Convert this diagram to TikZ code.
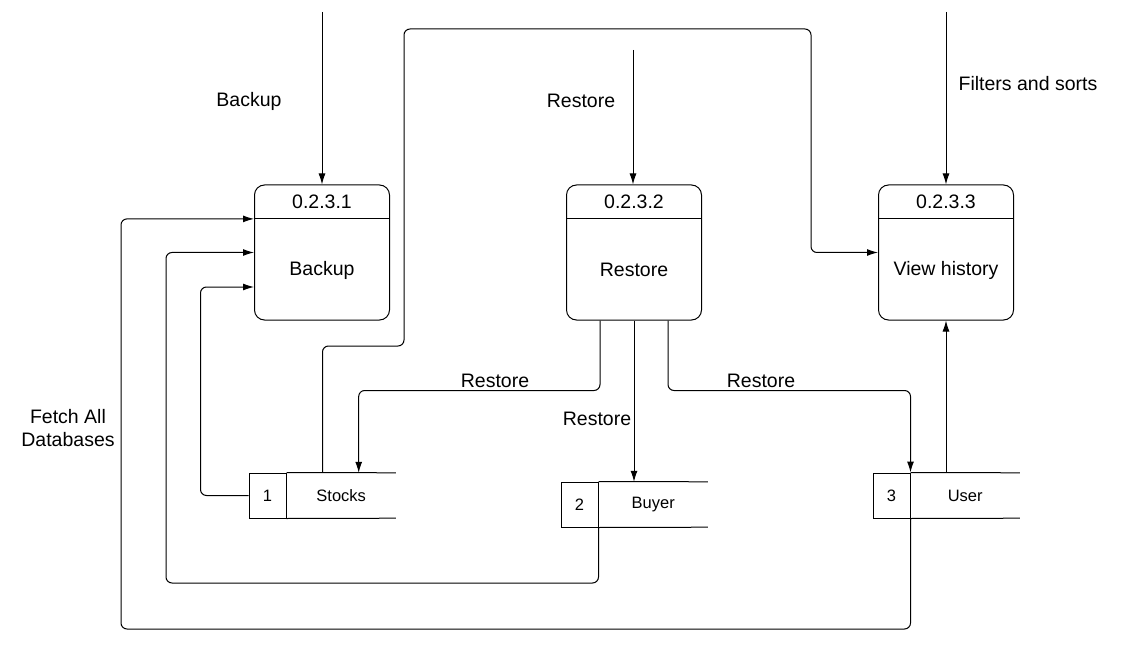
\documentclass[tikz,border=0pt]{standalone}
\usepackage{fontspec}
\setmainfont{Liberation Sans}
\usetikzlibrary{arrows.meta, positioning}
\tikzstyle{proc}=[draw,line width=1pt,rounded corners=10pt,minimum width=135pt,minimum height=135pt,inner sep=0pt]
\tikzstyle{pid}=[minimum width=135pt,minimum height=34pt,inner sep=0pt,font=\fontsize{19.5}{22}\selectfont]
\tikzstyle{ptxt}=[font=\fontsize{19.5}{22}\selectfont]
\tikzstyle{sid}=[draw,line width=1pt,minimum width=37pt,minimum height=45pt,inner sep=0pt,font=\fontsize{16.5}{19}\selectfont]
\tikzstyle{sname}=[minimum width=109pt,minimum height=45pt,inner sep=0pt,font=\fontsize{16.5}{19}\selectfont]
\tikzstyle{flow}=[line width=1pt,rounded corners=6pt,-{Latex[length=11pt,width=7pt]}]
\tikzstyle{lbl}=[font=\fontsize{19.5}{23}\selectfont,align=center]

\begin{document}
\begin{tikzpicture}[x=1pt,y=-1pt]
    \useasboundingbox (0,0) rectangle (1137,660);
    % processes
    \foreach \n/\x/\id/\t in {p1/322/0.2.3.1/Backup, p2/634/0.2.3.2/Restore, p3/946/0.2.3.3/View history} {
        \node[proc] (\n) at (\x,252.5) {};
        \node[pid,anchor=north] (\n id) at (\n.north) {\id};
        \draw[line width=1pt] (\n.west |- \n id.south) -- (\n.east |- \n id.south);
        \node[ptxt] (\n t) at (\x,270) {\t};
    }
    % data stores
    \foreach \n/\x/\y/\id/\t in {s1/267.5/495.5/1/Stocks, s2/579.5/504.5/2/Buyer, s3/891.5/495.5/3/User} {
        \node[sid] (\n) at (\x,\y) {\id};
        \node[sname,right=0pt of \n] (\n n) {\t};
        \draw[line width=1pt] (\n.north east) -- (\n n.north east) (\n.south east) -- (\n n.south east);
    }
    % inputs
    \coordinate (in1) at (322,12);
    \coordinate (in2) at (633,50);
    \coordinate (in3) at (946,12);
    \draw[flow] (in1) -- (in1 |- p1.north);
    \draw[flow] (in2) -- (in2 |- p2.north);
    \draw[flow] (in3) -- (in3 |- p3.north);
    \node[lbl] (lb1) at (249,101) {Backup};
    \node[lbl] (lb2) at (581,101) {Restore};
    \node[lbl] (lb3) at (1028,84) {Filters and sorts};
    % stocks to view history
    \draw[flow] ([xshift=36pt]s1n.north west) |- (404,346) |- (811,29) |- (p3.west);
    % restore outputs
    \draw[flow] ([xshift=-34pt]p2.south) -- ++(0,70) -| ([xshift=17.5pt]s1n.north);
    \draw[flow] (p2.south) -- (p2.south |- s2n.north);
    \draw[flow] ([xshift=34pt]p2.south) -- ++(0,70) -| (s3.north east);
    \node[lbl] (lr1) at (495,381) {Restore};
    \node[lbl] (lr2) at (597,419) {Restore};
    \node[lbl] (lr3) at (761,381) {Restore};
    % user to view history
    \draw[flow] (p3.south |- s3n.north) -- (p3.south);
    % fetch all databases
    \draw[flow] (s1.west) -- ++(-48,0) |- ([yshift=-34.5pt]p1.west);
    \draw[flow] (s2.south east) |- (166,583) |- (p1.west);
    \draw[flow] (s3.south east) |- (121,629) |- (p1id.south -| p1.west);
    \node[lbl] (lf) at (68,428) {Fetch All\\Databases};
\end{tikzpicture}
\end{document}
